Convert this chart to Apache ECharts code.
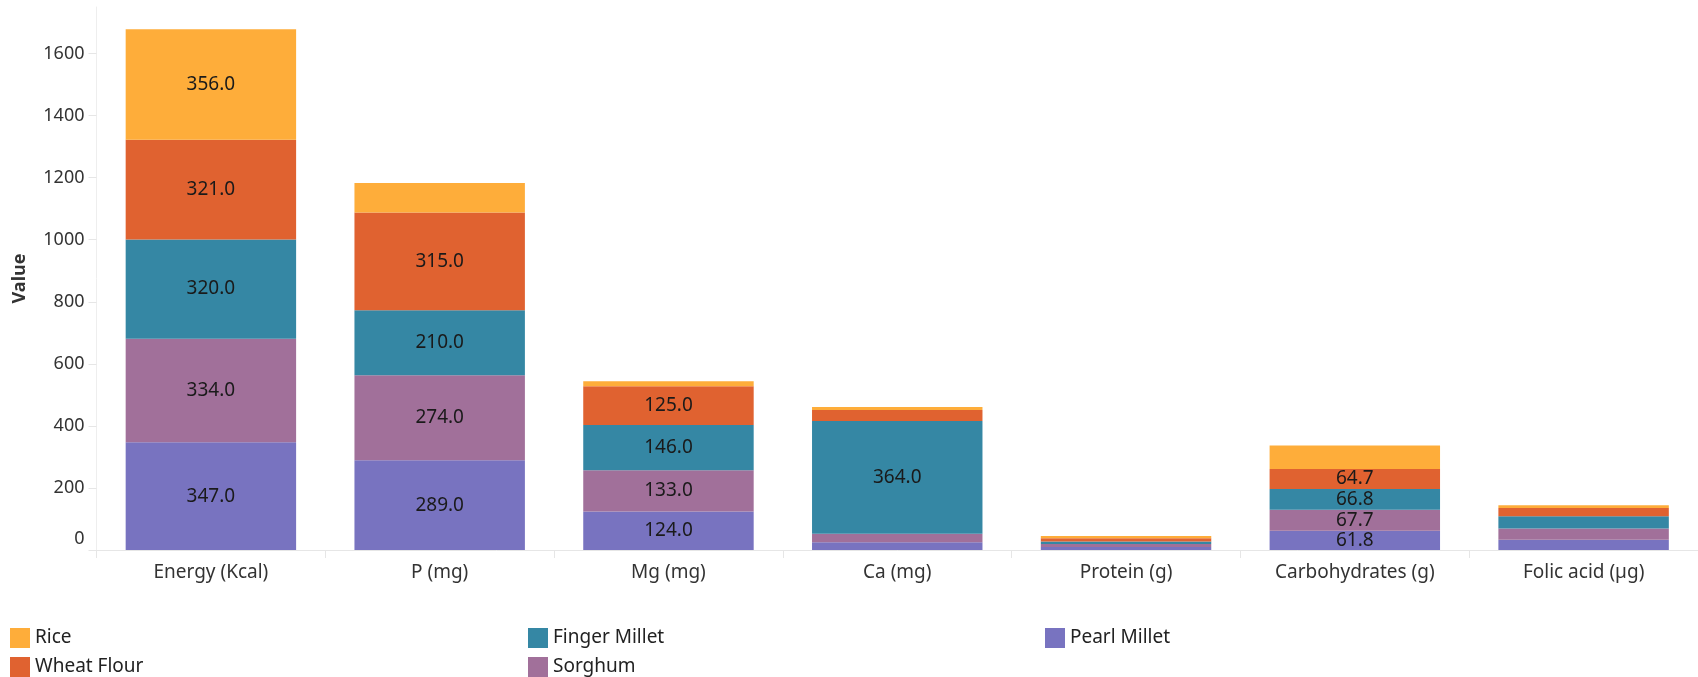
<!DOCTYPE html>
<html>
<head>
<meta charset="utf-8">
<script src="https://cdn.jsdelivr.net/npm/echarts@6/dist/echarts.min.js"></script>
<style>html,body{margin:0;padding:0;background:#fff;}#c{width:1698px;height:677px;}</style>
</head>
<body>
<div id="c"></div>
<script>
const categories = ['Energy (Kcal)', 'P (mg)', 'Mg (mg)', 'Ca (mg)', 'Protein (g)', 'Carbohydrates (g)', 'Folic acid (µg)'];
const pearlMillet  = [347, 289, 124, 25, 10, 61.8, 33];
const sorghum      = [334, 274, 133, 27, 9.5, 67.7, 36.5];
const fingerMillet = [320, 210, 146, 364, 7.5, 66.8, 39];
const wheatFlour   = [321, 315, 125, 35, 11, 64.7, 27];
const rice         = [356, 95, 16, 10, 7, 76, 9];
const yTicks = [0, 200, 400, 600, 800, 1000, 1200, 1400, 1600];

const colors = {
  'Rice': '#FEAD3A',
  'Wheat Flour': '#E06230',
  'Finger Millet': '#3587A4',
  'Sorghum': '#A1709A',
  'Pearl Millet': '#7873C0'
};
const FONT = 'Noto Sans';

function mkSeries(name, data, minShow) {
  return {
    name: name,
    type: 'bar',
    stack: 'total',
    data: data,
    barCategoryGap: '25.5%',
    itemStyle: { color: colors[name] },
    label: {
      show: true,
      position: 'inside',
      fontFamily: FONT,
      fontSize: 19,
      color: '#1a1a1a',
      formatter: p => (p.value >= minShow ? Number(p.value).toFixed(1) : '')
    },
    emphasis: { disabled: true }
  };
}

const chart = echarts.init(document.getElementById('c'), null, { renderer: 'canvas' });
const legendBase = {
  orient: 'vertical',
  top: 628,
  height: 49,
  padding: 0,
  itemWidth: 20,
  itemHeight: 20,
  itemGap: 9,
  itemTextGap: 7,
  icon: 'rect',
  textStyle: { fontFamily: FONT, fontSize: 19, color: '#222' }
};
chart.setOption({
  animation: false,
  backgroundColor: '#fff',
  grid: { left: 96.5, top: 7, width: 1606, height: 543, containLabel: false },
  legend: [
    Object.assign({}, legendBase, { left: 10, data: ['Rice', 'Wheat Flour'] }),
    Object.assign({}, legendBase, { left: 528, data: ['Finger Millet', 'Sorghum'] }),
    Object.assign({}, legendBase, { left: 1045, data: ['Pearl Millet'] })
  ],
  xAxis: {
    type: 'category',
    data: categories,
    axisLine: { show: true, lineStyle: { color: '#e6e6e6', width: 1 } },
    axisTick: { show: true, alignWithLabel: false, length: 8, lineStyle: { color: '#e6e6e6' } },
    axisLabel: { fontFamily: FONT, fontSize: 19, color: '#333', margin: 13, interval: 0 }
  },
  yAxis: {
    type: 'value',
    min: 0,
    max: 1750,
    interval: 200,
    name: 'Value',
    nameLocation: 'middle',
    nameGap: 68,
    nameTextStyle: { fontFamily: FONT, fontSize: 18, fontWeight: 'bold', color: '#333' },
    splitLine: { show: false },
    axisLine: { show: true, lineStyle: { color: '#eeeeee', width: 1 } },
    axisTick: { show: true, length: 8, lineStyle: { color: '#e6e6e6' } },
    axisLabel: {
      fontFamily: FONT, fontSize: 18, color: '#333', margin: 12,
      showMaxLabel: false,
      formatter: v => (yTicks.indexOf(v) >= 0 ? (v === 0 ? '{z|0}' : String(v)) : ''),
      rich: { z: { fontFamily: FONT, fontSize: 18, color: '#333', padding: [0, 0, 22, 0] } }
    }
  },
  series: [
    mkSeries('Pearl Millet', pearlMillet, 60),
    mkSeries('Sorghum', sorghum, 60),
    mkSeries('Finger Millet', fingerMillet, 60),
    mkSeries('Wheat Flour', wheatFlour, 60),
    mkSeries('Rice', rice, 100)
  ]
});
</script>
</body>
</html>
